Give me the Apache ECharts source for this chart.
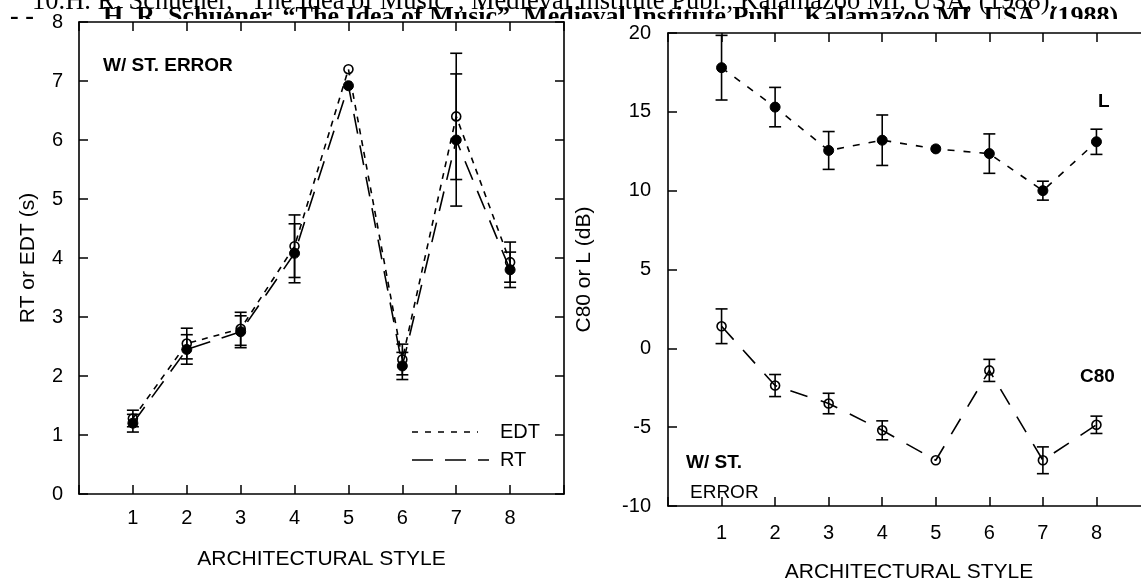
<!DOCTYPE html>
<html><head><meta charset="utf-8">
<script src="https://cdn.jsdelivr.net/npm/echarts@6/dist/echarts.min.js"></script>
<style>html,body{margin:0;padding:0;background:#fff}#c{width:1141px;height:583px}</style>
</head><body><div id="c"></div>
<script>
// ---- data ----
const styles = [1, 2, 3, 4, 5, 6, 7, 8];
const edt    = [1.28, 2.55, 2.80, 4.20, 7.20, 2.28, 6.40, 3.93];
const edtErr = [0.14, 0.26, 0.28, 0.53, 0, 0.26, 1.07, 0.34];
const rt     = [1.20, 2.45, 2.75, 4.08, 6.92, 2.17, 6.00, 3.80];
const rtErr  = [0.15, 0.25, 0.27, 0.50, 0, 0.23, 1.12, 0.30];
const lvals  = [17.8, 15.3, 12.55, 13.2, 12.65, 12.35, 10.0, 13.1];
const lErr   = [2.05, 1.25, 1.2, 1.6, 0, 1.25, 0.6, 0.8];
const c80    = [1.4, -2.36, -3.5, -5.2, -7.1, -1.4, -7.1, -4.85];
const c80Err = [1.1, 0.7, 0.65, 0.6, 0, 0.7, 0.85, 0.55];
const leftYTicks = [0, 1, 2, 3, 4, 5, 6, 7, 8];
const rightYTicks = [-10, -5, 0, 5, 10, 15, 20];
const xLabel = 'ARCHITECTURAL STYLE';
const citation = '10.H. R. Schuener, \u201CThe Idea of Music\u201D, Medieval Institute Publ., Kalamazoo MI, USA, (1988).';
const citationBold = 'H. R. Schuener, \u201CThe Idea of Music\u201D, Medieval Institute Publ., Kalamazoo MI, USA, (1988).';

const FONT = '"Liberation Sans", Arial, Helvetica, sans-serif';
const BLACK = '#000';

function pts(v) { return styles.map((s, i) => [s, v[i]]); }
function errs(v, e) { return styles.map((s, i) => e[i] > 0 ? [s, v[i] - e[i], v[i] + e[i]] : null).filter(Boolean); }

function renderErr(params, api) {
  const x = api.value(0), lo = api.value(1), hi = api.value(2);
  const a = api.coord([x, lo]), b = api.coord([x, hi]);
  const w = 6;
  const st = { stroke: BLACK, lineWidth: 1.6 };
  return { type: 'group', children: [
    { type: 'line', shape: { x1: a[0], y1: a[1], x2: b[0], y2: b[1] }, style: st },
    { type: 'line', shape: { x1: a[0] - w, y1: a[1], x2: a[0] + w, y2: a[1] }, style: st },
    { type: 'line', shape: { x1: b[0] - w, y1: b[1], x2: b[0] + w, y2: b[1] }, style: st }
  ]};
}

function xAx(grid, pos, showLabel, margin, nameGap) {
  return {
    gridIndex: grid, type: 'value', min: 0, max: 9, interval: 1, position: pos,
    axisLine: { show: true, onZero: false, lineStyle: { color: BLACK, width: 1.6 } },
    axisTick: { show: true, inside: true, length: 9, lineStyle: { color: BLACK, width: 1.5 } },
    axisLabel: { show: showLabel, margin: margin, color: BLACK, fontSize: 20, fontFamily: FONT,
      formatter: v => (v >= 1 && v <= 8) ? String(v) : '' },
    splitLine: { show: false },
    name: showLabel ? xLabel : '', nameLocation: 'middle', nameGap: nameGap,
    nameTextStyle: { color: BLACK, fontSize: 21, fontFamily: FONT }
  };
}
function yAx(grid, pos, min, max, interval, showLabel, margin, name, nameGap) {
  return {
    gridIndex: grid, type: 'value', min: min, max: max, interval: interval, position: pos,
    axisLine: { show: true, onZero: false, lineStyle: { color: BLACK, width: 1.6 } },
    axisTick: { show: true, inside: true, length: 9, lineStyle: { color: BLACK, width: 1.5 } },
    axisLabel: { show: showLabel, margin: margin, color: BLACK, fontSize: 20, fontFamily: FONT },
    splitLine: { show: false },
    name: showLabel ? name : '', nameLocation: 'middle', nameGap: nameGap,
    nameTextStyle: { color: BLACK, fontSize: 21, fontFamily: FONT }
  };
}

const chart = echarts.init(document.getElementById('c'), null, { renderer: 'canvas' });
chart.setOption({
  backgroundColor: '#fff',
  animation: false,
  grid: [
    { left: 79, top: 22, width: 485, height: 472, show: false, outerBoundsMode: 'none', containLabel: false },
    { left: 668, top: 33, width: 482, height: 473, show: false, outerBoundsMode: 'none', containLabel: false }
  ],
  xAxis: [
    xAx(0, 'bottom', true, 14, 55),
    xAx(0, 'top', false, 0, 0),
    xAx(1, 'bottom', true, 17, 56),
    xAx(1, 'top', false, 0, 0)
  ],
  yAxis: [
    yAx(0, 'left', 0, 8, 1, true, 16, 'RT or EDT (s)', 40),
    yAx(0, 'right', 0, 8, 1, false, 0, '', 0),
    yAx(1, 'left', -10, 20, 5, true, 17, 'C80 or L (dB)', 73),
    yAx(1, 'right', -10, 20, 5, false, 0, '', 0)
  ],
  series: [
    { name: 'EDT', type: 'line', xAxisIndex: 0, yAxisIndex: 0, data: pts(edt),
      symbol: 'circle', symbolSize: 9, z: 3,
      lineStyle: { color: BLACK, width: 1.6, type: [6, 6] },
      itemStyle: { color: 'rgba(0,0,0,0)', borderColor: BLACK, borderWidth: 1.6 } },
    { name: 'RT', type: 'line', xAxisIndex: 0, yAxisIndex: 0, data: pts(rt),
      symbol: 'circle', symbolSize: 10, z: 4,
      lineStyle: { color: BLACK, width: 1.6, type: [20, 12] },
      itemStyle: { color: BLACK, borderColor: BLACK } },
    { type: 'custom', xAxisIndex: 0, yAxisIndex: 0, data: errs(edt, edtErr), renderItem: renderErr, z: 5 },
    { type: 'custom', xAxisIndex: 0, yAxisIndex: 0, data: errs(rt, rtErr), renderItem: renderErr, z: 5 },
    { name: 'L', type: 'line', xAxisIndex: 2, yAxisIndex: 2, data: pts(lvals),
      symbol: 'circle', symbolSize: 10, z: 4,
      lineStyle: { color: BLACK, width: 1.6, type: [7, 9] },
      itemStyle: { color: BLACK, borderColor: BLACK } },
    { name: 'C80', type: 'line', xAxisIndex: 2, yAxisIndex: 2, data: pts(c80),
      symbol: 'circle', symbolSize: 9, z: 3,
      lineStyle: { color: BLACK, width: 1.6, type: [18, 14] },
      itemStyle: { color: 'rgba(0,0,0,0)', borderColor: BLACK, borderWidth: 1.6 } },
    { type: 'custom', xAxisIndex: 2, yAxisIndex: 2, data: errs(lvals, lErr), renderItem: renderErr, z: 5 },
    { type: 'custom', xAxisIndex: 2, yAxisIndex: 2, data: errs(c80, c80Err), renderItem: renderErr, z: 5 }
  ],
  graphic: [
    // scanned citation lines at the top
    { type: 'text', x: 32, y: 16, z: -20, style: { text: citation, fill: BLACK,
        font: '26.5px "Liberation Serif", "Times New Roman", serif', verticalAlign: 'bottom' } },
    { type: 'text', x: 10, y: 4, z: -20, style: { text: '- -  .', fill: BLACK,
        font: 'bold 26px "Liberation Serif", "Times New Roman", serif', verticalAlign: 'top' } },
    { type: 'text', x: 103, y: 4, z: -20, style: { text: citationBold, fill: BLACK,
        font: 'bold 26px "Liberation Serif", "Times New Roman", serif', verticalAlign: 'top' } },
    { type: 'rect', z: -10, shape: { x: 0, y: 19, width: 1141, height: 40 }, style: { fill: '#fff' } },
    // annotations
    { type: 'text', x: 103, y: 66, style: { text: 'W/ ST. ERROR', fill: BLACK,
        font: 'bold 19px ' + FONT, verticalAlign: 'middle' } },
    { type: 'text', x: 686, y: 463, style: { text: 'W/ ST.', fill: BLACK,
        font: 'bold 19px ' + FONT, verticalAlign: 'middle' } },
    { type: 'text', x: 690, y: 493, style: { text: 'ERROR', fill: BLACK,
        font: '19px ' + FONT, verticalAlign: 'middle' } },
    { type: 'text', x: 1098, y: 102, style: { text: 'L', fill: BLACK,
        font: 'bold 19px ' + FONT, verticalAlign: 'middle' } },
    { type: 'text', x: 1080, y: 377, style: { text: 'C80', fill: BLACK,
        font: 'bold 19px ' + FONT, verticalAlign: 'middle' } },
    // legend
    { type: 'line', shape: { x1: 412, y1: 432, x2: 478, y2: 432 },
      style: { stroke: BLACK, lineWidth: 1.6, lineDash: [6, 7] } },
    { type: 'text', x: 500, y: 432, style: { text: 'EDT', fill: BLACK, font: '20px ' + FONT, verticalAlign: 'middle' } },
    { type: 'line', shape: { x1: 412, y1: 460, x2: 489, y2: 460 },
      style: { stroke: BLACK, lineWidth: 1.6, lineDash: [21, 12] } },
    { type: 'text', x: 500, y: 460, style: { text: 'RT', fill: BLACK, font: '20px ' + FONT, verticalAlign: 'middle' } }
  ]
});
</script></body></html>
